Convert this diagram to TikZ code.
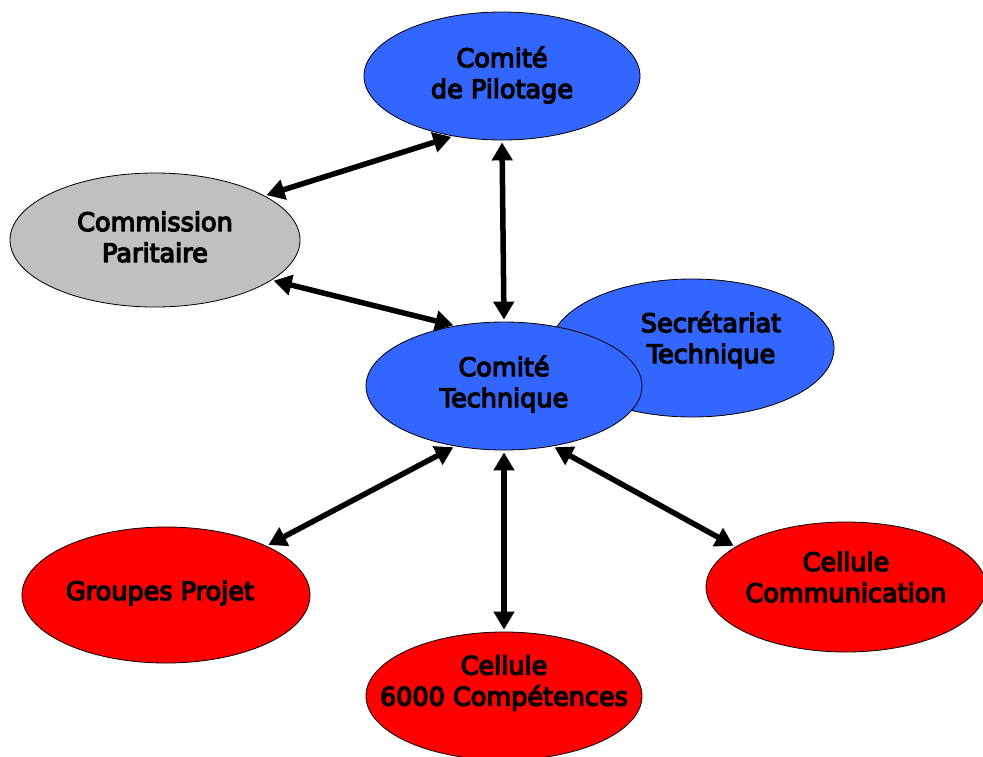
\documentclass[tikz,border=0pt]{standalone}
\usepackage{fontspec}
\setmainfont{DejaVu Sans}
\newfontfamily\lblfont[FakeBold=5]{DejaVu Sans}
\usetikzlibrary{shapes.geometric,arrows.meta}
\definecolor{cblue}{RGB}{51,102,255}
\definecolor{cgray}{RGB}{192,192,192}
\definecolor{cred}{RGB}{255,0,0}
\begin{document}
\begin{tikzpicture}[x=1pt,y=-1pt,
  bub/.style={ellipse, draw=black, line width=0.8pt, inner sep=0pt},
  blu/.style={bub, fill=cblue},
  gry/.style={bub, fill=cgray},
  rd/.style={bub, fill=cred},
  lbl/.style={align=center, inner sep=0pt, font=\lblfont\fontsize{25.5}{31}\selectfont},
  link/.style={{Triangle[length=18pt,width=20pt]}-{Triangle[length=18pt,width=20pt]}, line width=5.5pt, shorten <=2pt, shorten >=2pt}
]
\useasboundingbox (0,0) rectangle (983,756);
\fill[white] (0,0) rectangle (983,756);

\node[blu, minimum width=276pt, minimum height=128pt,
  label={[lbl,yshift=1pt]center:Comité\\de Pilotage}] (pil) at (502,76) {};
\node[gry, minimum width=290pt, minimum height=134pt,
  label={[lbl,yshift=3pt]center:Commission\\Paritaire}] (com) at (155,240) {};
\node[blu, minimum width=284pt, minimum height=138pt,
  label={[lbl,xshift=19pt,yshift=8pt]center:Secrétariat\\Technique}] (sec) at (692,348) {};
\node[blu, minimum width=276pt, minimum height=128pt,
  label={[lbl,yshift=2pt]center:Comité\\Technique}] (ct) at (504,386) {};
\node[rd, minimum width=288pt, minimum height=136pt,
  label={[lbl,xshift=-6pt,yshift=2pt]center:Groupes Projet}] (gp) at (166,595) {};
\node[rd, minimum width=276pt, minimum height=128pt,
  label={[lbl,yshift=13pt]center:Cellule\\6000 Compétences}] (c6) at (504,696) {};
\node[rd, minimum width=280pt, minimum height=130pt,
  label={[lbl,yshift=10pt]center:Cellule\\Communication}] (cc) at (846,587) {};

\draw[link] (com.22) -- (pil.231);
\draw[link] (pil.south) -- (ct.north);
\draw[link] (com.-19) -- (ct.129);
\draw[link] (ct.231) -- (gp.26);
\draw[link] (ct.south) -- (c6.north);
\draw[link] (ct.309) -- (cc.160);
\end{tikzpicture}
\end{document}
